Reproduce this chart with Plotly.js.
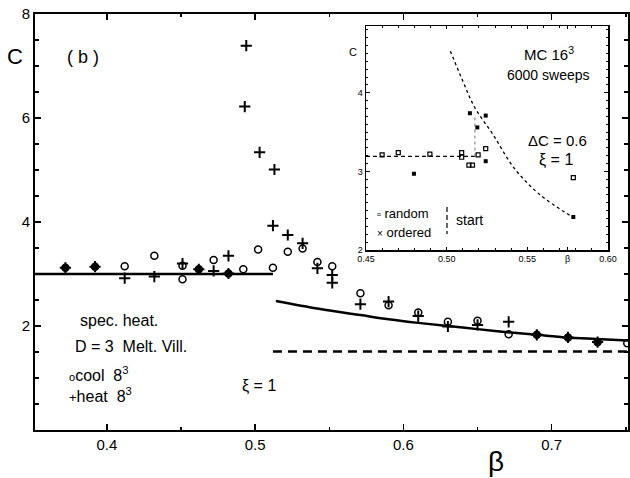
<!DOCTYPE html>
<html>
<head>
<meta charset="utf-8">
<script src="https://cdn.plot.ly/plotly-3.0.1.min.js"></script>
<style>html,body{margin:0;padding:0;background:#fff;}#chart{width:630px;height:478px;}</style>
</head>
<body>
<div id="chart"></div>
<script>
// ---- main panel data (beta, C) ----
const coolBeta = [0.372,0.392,0.412,0.432,0.451,0.451,0.462,0.472,0.482,0.492,0.502,0.512,0.522,0.532,0.542,0.552,0.571,0.590,0.610,0.630,0.650,0.671,0.690,0.711,0.731,0.751];
const coolC    = [3.12,3.14,3.15,3.35,3.16,2.90,3.09,3.27,3.01,3.09,3.47,3.12,3.43,3.49,3.23,3.15,2.63,2.40,2.26,2.08,2.10,1.84,1.83,1.78,1.69,1.67];
const heatBeta = [0.372,0.392,0.412,0.432,0.451,0.462,0.472,0.482,0.482,0.494,0.493,0.503,0.513,0.512,0.522,0.532,0.542,0.552,0.552,0.571,0.590,0.610,0.630,0.650,0.671,0.690,0.711,0.731];
const heatC    = [3.12,3.14,2.92,2.95,3.20,3.09,3.06,3.35,3.01,7.39,6.22,5.34,5.01,3.93,3.75,3.59,3.11,2.98,2.83,2.42,2.47,2.19,1.99,2.02,2.08,1.83,1.78,1.69];
const lowLineBeta = [0.3515, 0.512];
const lowLineC    = [3.0, 3.0];
const highCurveBeta = [0.514,0.543,0.571,0.590,0.610,0.630,0.650,0.670,0.690,0.710,0.730,0.7515];
const highCurveC    = [2.48,2.33,2.21,2.13,2.06,2.00,1.94,1.88,1.83,1.78,1.75,1.72];
const dashBeta = [0.512, 0.7515];
const dashC    = [1.51, 1.51];
const mainTickVals = [0.4,0.5,0.6,0.7];
const mainTickText = ["0.4","0.5","0.6","0.7"];
const mainYTickVals = [2,4,6,8];

// ---- inset data (MC 16^3) ----
const randomBeta = [0.460,0.470,0.4896,0.5093,0.5093,0.5138,0.5160,0.5195,0.5242,0.5785];
const randomC    = [3.21,3.24,3.22,3.24,3.18,3.08,3.08,3.21,3.29,2.92];
const orderedBeta = [0.4797,0.5144,0.5190,0.5242,0.5242,0.5785];
const orderedC    = [2.97,3.74,3.56,3.71,3.13,2.42];
const insetFlatBeta = [0.45, 0.5175];
const insetFlatC    = [3.19, 3.19];
const insetJumpBeta = [0.5175, 0.5175];
const insetJumpC    = [3.19, 3.70];
const insetCurveBeta = [0.5023,0.5100,0.5175,0.5287,0.5419,0.558,0.578];
const insetCurveC    = [4.53,4.15,3.81,3.47,3.04,2.70,2.42];
const insetTickVals = [0.45,0.50,0.55,0.575,0.60];
const insetTickText = ["0.45","0.50","0.55","β","0.60"];

// coincident cool/heat points look filled
const coolSymbols = coolBeta.map((b,i)=>{
  for (let j=0;j<heatBeta.length;j++){
    if (Math.abs(heatBeta[j]-b)<0.003 && Math.abs(heatC[j]-coolC[i])<0.03) return 'circle';
  }
  return 'circle-open';
});

const FONT = 'Liberation Sans, Arial, sans-serif';
const L=35, R=628, T=14, B=430;
function px(x){return (x-L)/(R-L);}
function py(y){return (B-y)/(B-T);}

const traces = [
  {x: lowLineBeta, y: lowLineC, mode:'lines', line:{color:'black', width:2.5}, hoverinfo:'skip'},
  {x: highCurveBeta, y: highCurveC, mode:'lines', line:{color:'black', width:2.5, shape:'spline'}, hoverinfo:'skip'},
  {x: dashBeta, y: dashC, mode:'lines', line:{color:'black', width:2.5, dash:'9px,6px'}, hoverinfo:'skip'},
  {x: coolBeta, y: coolC, mode:'markers', name:'cool 8³',
   marker:{symbol: coolSymbols, size:7, color:'black', line:{color:'black', width:1.5}}},
  {x: heatBeta, y: heatC, mode:'markers', name:'heat 8³',
   marker:{symbol:'cross-thin', size:8, color:'black', line:{color:'black', width:2}}},
  // inset
  {x: insetFlatBeta, y: insetFlatC, xaxis:'x2', yaxis:'y2', mode:'lines', line:{color:'black', width:1.3, dash:'4px,3px'}},
  {x: insetJumpBeta, y: insetJumpC, xaxis:'x2', yaxis:'y2', mode:'lines', line:{color:'#777', width:1, dash:'dot'}},
  {x: insetCurveBeta, y: insetCurveC, xaxis:'x2', yaxis:'y2', mode:'lines', line:{color:'black', width:1.3, dash:'3px,3px', shape:'spline'}},
  {x: randomBeta, y: randomC, xaxis:'x2', yaxis:'y2', mode:'markers', marker:{symbol:'square-open', size:4, color:'black', line:{color:'black', width:1.2}}},
  {x: orderedBeta, y: orderedC, xaxis:'x2', yaxis:'y2', mode:'markers', marker:{symbol:'square', size:4, color:'black'}}
];

function ann(text, x, y, size, anchor, extra){
  return Object.assign({text:text, xref:'paper', yref:'paper', x:px(x), y:py(y), showarrow:false,
    xanchor: anchor||'center', yanchor:'middle', font:{family:FONT, size:size, color:'black'}}, extra||{});
}

const annotations = [
  ann('C', 15, 57, 22),
  ann('( b )', 83, 57, 18),
  ann('spec. heat.', 78, 320, 16, 'left'),
  ann('D = 3  Melt. Vill.', 73, 346, 16, 'left'),
  ann('<span style="font-size:11px">o</span>cool  8<sup>3</sup>', 67, 374, 16, 'left'),
  ann('<span style="font-size:13px">+</span>heat  8<sup>3</sup>', 67, 395, 16, 'left'),
  ann('ξ = 1', 259, 386, 16),
  ann('β', 496, 461, 28),
  // inset texts
  ann('C', 353, 52, 11),
  ann('MC 16<sup>3</sup>', 549, 53, 15),
  ann('6000 sweeps', 548, 75, 14),
  ann('ΔC = 0.6', 557, 140, 15),
  ann('ξ = 1', 556, 160, 16),
  ann('<span style="font-size:11px">▫</span> random', 375, 213, 13, 'left'),
  ann('<span style="font-size:10px">×</span> ordered', 375, 232, 13, 'left'),
  ann('start', 454, 220, 14, 'left')
];

const shapes = [
  {type:'line', xref:'paper', yref:'paper', x0:px(447), x1:px(447), y0:py(207), y1:py(234),
   line:{color:'black', width:1.2, dash:'5px,3px'}}
];

const axBase = {showgrid:false, zeroline:false, showline:true, linecolor:'black', mirror:'ticks',
  ticks:'inside', tickcolor:'black', color:'black'};

const layout = {
  width:630, height:478,
  margin:{l:L, r:630-R, t:T, b:478-B},
  paper_bgcolor:'white', plot_bgcolor:'white',
  showlegend:false,
  font:{family:FONT, color:'black'},
  xaxis: Object.assign({}, axBase, {range:[0.3515,0.7515], domain:[0,1], anchor:'y',
    tickvals:mainTickVals, ticktext:mainTickText, ticklen:6, tickwidth:1.5, linewidth:2,
    tickfont:{family:FONT, size:15}, minor:{dtick:0.05, tick0:0, ticklen:3, ticks:'inside', tickcolor:'black'}}),
  yaxis: Object.assign({}, axBase, {range:[0,8], domain:[0,1], anchor:'x',
    tickvals:mainYTickVals, ticklen:6, tickwidth:1.5, linewidth:2,
    tickfont:{family:FONT, size:15}, minor:{dtick:0.5, tick0:0, ticklen:4, ticks:'inside', tickcolor:'black'}}),
  xaxis2: Object.assign({}, axBase, {range:[0.45,0.60], domain:[px(366), px(608)], anchor:'y2',
    tickvals:insetTickVals, ticktext:insetTickText, ticklen:3, tickwidth:1, linewidth:1.5,
    tickfont:{family:FONT, size:9}, minor:{dtick:0.01, tick0:0, ticklen:2, ticks:'inside', tickcolor:'black'}}),
  yaxis2: Object.assign({}, axBase, {range:[2,4.85], domain:[py(250), py(26)], anchor:'x2',
    tickvals:[2,3,4], ticklen:4, tickwidth:1, linewidth:1.5,
    tickfont:{family:FONT, size:9}, minor:{dtick:0.1, tick0:0, ticklen:2, ticks:'inside', tickcolor:'black'}}),
  annotations: annotations,
  shapes: shapes
};

Plotly.newPlot('chart', traces, layout, {displayModeBar:false, staticPlot:true});
</script>
</body>
</html>
